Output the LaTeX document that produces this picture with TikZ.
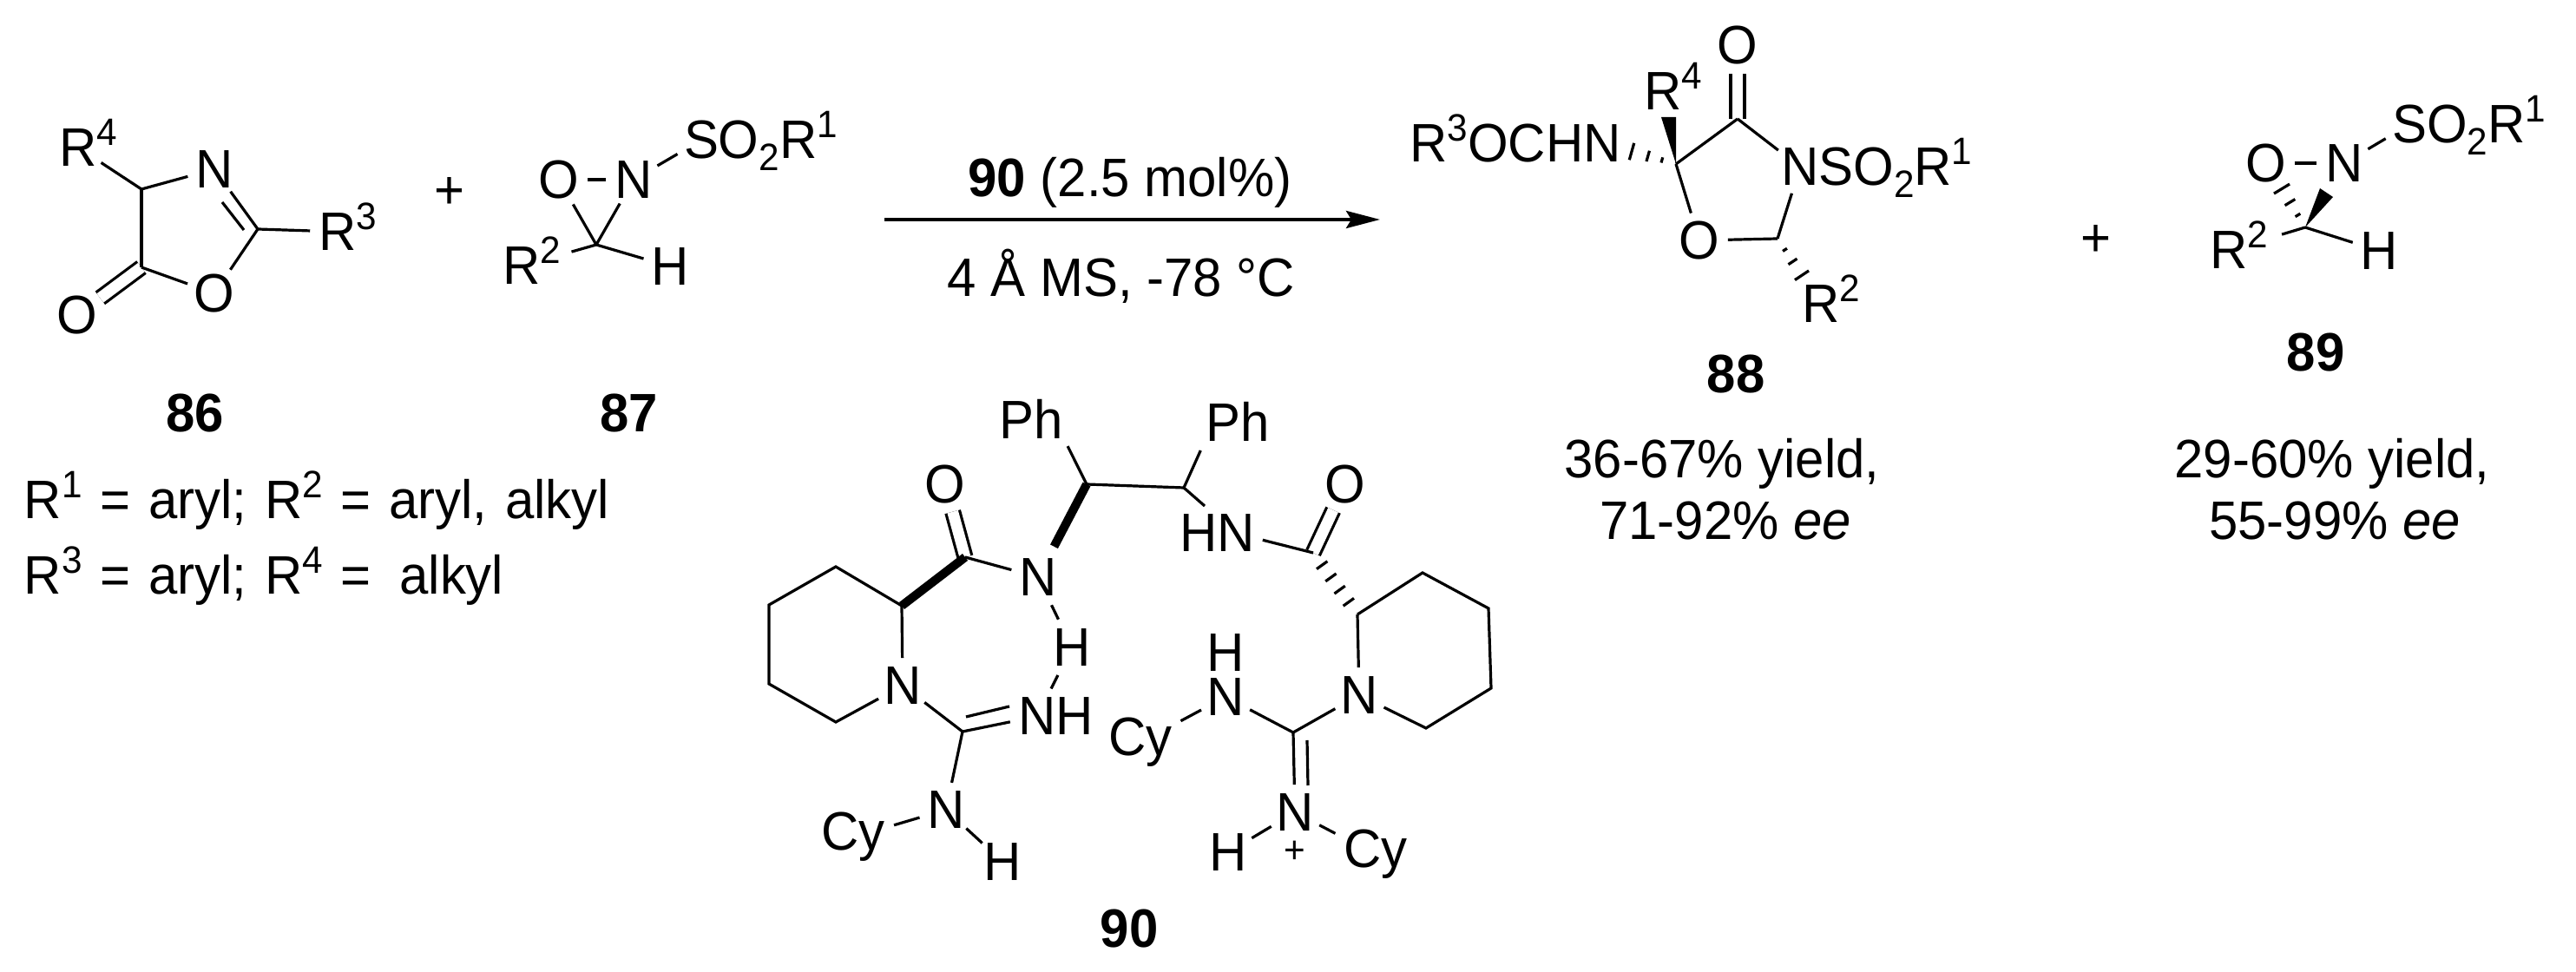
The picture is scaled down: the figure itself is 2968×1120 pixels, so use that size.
\documentclass[tikz,border=0pt]{standalone}
\usepackage{fontspec}
\setmainfont[FakeStretch=0.96]{Liberation Sans}
\usetikzlibrary{calc,arrows.meta}
\newcommand{\supnum}[1]{\raisebox{6pt}{\fontsize{11}{11}\selectfont #1}}
\newcommand{\subnum}[1]{\raisebox{-3.5pt}{\fontsize{11}{11}\selectfont #1}}
\newcommand{\tailr}[1]{\smash{\rlap{#1}}}
\newcommand{\taill}[1]{\smash{\llap{#1}}}
\newcommand{\hashbond}[5]{%
	\foreach \tpos in {#5} {
		\pgfmathsetmacro\hw{#3+(#4-#3)*\tpos}
		\draw[hash] ($(#1)!\tpos!(#2)!\hw pt!90:(#2)$)--($(#1)!\tpos!(#2)!\hw pt!-90:(#2)$);
	}}
\tikzset{
	every node/.style={font=\fontsize{15.6}{18}\selectfont,inner sep=0pt},
	atom/.style={circle,minimum size=15.5pt},
	group/.style={anchor=base,inner sep=0.5pt},
	caption/.style={anchor=base,font=\fontsize{15.6}{18}\selectfont\bfseries},
	note/.style={anchor=base},
	bond/.style={line width=0.8pt},
	dblbond/.style={line width=0.8pt,double,double distance=3.2pt},
	boldbond/.style={line width=2.5pt},
	hash/.style={line width=0.8pt}
}
\begin{document}
\begin{tikzpicture}[x=0.25pt,y=-0.25pt]
	\useasboundingbox (0,0) rectangle (2968,1120);
	% 86
	\coordinate (c4) at (163,218);
	\coordinate (c5) at (163,308);
	\coordinate (c2) at (297,264);
	\coordinate (c2a) at (281,265);
	\coordinate (n1a) at (256,233);
	\node[atom] (r4a) at (90,170) {R\tailr{\supnum{4}}};
	\node[atom] (n1) at (247,195) {N};
	\node[atom] (r3a) at (389,267) {R\tailr{\supnum{3}}};
	\node[atom] (o1) at (247,338) {O};
	\node[atom] (o2) at (89,363) {O};
	\draw[dblbond] (c5)--(o2);
	\draw[bond] (c4)--(r4a);
	\draw[bond] (c4)--(n1);
	\draw[bond] (c4)--(c5);
	\draw[bond] (c2)--(n1);
	\draw[bond] (c2a)--(n1a);
	\draw[bond] (c2)--(r3a);
	\draw[bond] (c2)--(o1);
	\draw[bond] (c5)--(o1);
	\node[caption] (l86) at (225,498) {86};
	\node[note,anchor=base west] (subst1) at (27,598) {\spaceskip=5.2pt\relax R\supnum{1} = aryl; R\supnum{2} = aryl, alkyl};
	\node[note,anchor=base west] (subst2) at (27,685) {\spaceskip=5.2pt\relax R\supnum{3} = aryl; R\supnum{4} = \hspace{3pt}alkyl};
	\node (plus1) at (518,223) {+};
	% 87
	\coordinate (c3) at (687,282);
	\node[atom] (o3) at (644,207) {O};
	\node[atom] (n2) at (730,207) {N};
	\node[atom] (s1) at (808,161.5) {S\tailr{O\subnum{2}R\supnum{1}}};
	\node[atom] (r2a) at (601,306.5) {R\tailr{\supnum{2}}};
	\node[atom] (h1) at (772,307) {H};
	\draw[bond] (o3)--(n2);
	\draw[bond] (n2)--(s1);
	\draw[bond] (c3)--(o3);
	\draw[bond] (c3)--(n2);
	\draw[bond,shorten >=7pt] (c3)--(r2a);
	\draw[bond] (c3)--(h1);
	\node[caption] (l87) at (725,498) {87};
	% reaction arrow
	\coordinate (arrowa) at (1019,253);
	\coordinate (arrowb) at (1590,253);
	\draw[-{Stealth[length=9.75pt,width=5pt,inset=1.5pt]},line width=1pt] (arrowa)--(arrowb);
	\node[note] (cond1) at (1302,227) {\textbf{90} (2.5 mol\%)};
	\node[note] (cond2) at (1292,342) {4 Å MS, -78 °C};
	% 88
	\coordinate (c6) at (1931,189);
	\coordinate (c7) at (2002,137);
	\coordinate (c8) at (2048,275);
	\coordinate (wedge1a) at (1914,135);
	\coordinate (wedge1b) at (1931,135);
	\node[atom] (n3) at (1846,165) {\taill{R\supnum{3}OCH}N};
	\node[atom] (r4b) at (1916,105.5) {R\tailr{\supnum{4}}};
	\node[atom] (o4) at (2002,52) {O};
	\node[atom] (n4) at (2074,192.5) {N\tailr{SO\subnum{2}R\supnum{1}}};
	\node[atom] (o5) at (1958,277) {O};
	\node[atom] (r2b) at (2098,350.5) {R\tailr{\supnum{2}}};
	\draw[dblbond] (c7)--(o4);
	\fill (c6)--(wedge1a)--(wedge1b)--cycle;
	\hashbond{c6}{n3}{0}{4.2}{0.19,0.38,0.6}
	\draw[bond] (c6)--(c7);
	\draw[bond] (c7)--(n4);
	\draw[bond] (n4)--(c8);
	\draw[bond] (c8)--(o5);
	\draw[bond] (c6)--(o5);
	\hashbond{c8}{r2b}{0}{4.3}{0.17,0.35,0.56}
	\node[caption] (l88) at (2000,453) {88};
	\node[note] (yield1) at (1984,551) {36-67\% yield,};
	\node[note] (ee1) at (1988,622) {71-92\% \textit{ee}};
	\node (plus2) at (2415,278) {+};
	% 89
	\coordinate (c9) at (2656,262);
	\coordinate (wedge2a) at (2673,217);
	\coordinate (wedge2b) at (2688,227);
	\node[atom] (o6) at (2611,188) {O};
	\node[atom] (n5) at (2701,188) {N};
	\node[atom] (s2) at (2776,143.5) {S\tailr{O\subnum{2}R\supnum{1}}};
	\node[atom] (r2c) at (2568,288.5) {R\tailr{\supnum{2}}};
	\node[atom] (h2) at (2741,289) {H};
	\draw[bond] (o6)--(n5);
	\draw[bond] (n5)--(s2);
	\fill (c9)--(wedge2a)--(wedge2b)--cycle;
	\hashbond{c9}{o6}{0}{4.4}{0.19,0.39,0.6}
	\draw[bond,shorten >=8pt] (c9)--(r2c);
	\draw[bond] (c9)--(h2);
	\node[caption] (l89) at (2668,428) {89};
	\node[note] (yield2) at (2687,551) {29-60\% yield,};
	\node[note] (ee2) at (2690,622) {55-99\% \textit{ee}};
	% 90 left half
	\coordinate (cha) at (1252,558);
	\coordinate (cam1) at (1112,642);
	\coordinate (cr1) at (1039,698);
	\coordinate (cr2) at (963,653);
	\coordinate (cr3) at (886,697);
	\coordinate (cr4) at (886,788);
	\coordinate (cr5) at (963,832);
	\coordinate (cg1) at (1109,843);
	\coordinate (cg1a) at (1113,826);
	\coordinate (ng1a) at (1163,814);
	\node[group] (ph1) at (1188,506) {Ph};
	\node[atom] (o7) at (1089,558) {O};
	\node[atom] (n6) at (1196,665) {N};
	\node[atom] (h3) at (1235,746) {H};
	\node[atom] (n7) at (1040,790) {N};
	\node[atom] (n8) at (1195,825.5) {N\tailr{H}};
	\node[atom] (n9) at (1090,933) {N};
	\node[group] (cy1) at (983,980) {Cy};
	\node[atom] (h4) at (1155,993) {H};
	\draw[dblbond] (cam1)--(o7);
	\draw[bond,shorten >=1.5pt] (cha)--(ph1.south east);
	\draw[boldbond,shorten >=2pt] (cha)--(n6);
	\draw[boldbond] (cr1)--(cam1);
	\draw[bond] (cam1)--(n6);
	\draw[bond,shorten <=1pt,shorten >=1pt] (n6)--(h3);
	\draw[bond,shorten <=1pt,shorten >=1pt] (h3)--(n8);
	\draw[bond] (cr1)--(cr2)--(cr3)--(cr4)--(cr5)--(n7);
	\draw[bond] (cr1)--(n7);
	\draw[bond] (n7)--(cg1);
	\draw[bond] (cg1)--(n8);
	\draw[bond] (cg1a)--(ng1a);
	\draw[bond] (cg1)--(n9);
	\draw[bond,shorten >=2pt] (n9)--(cy1);
	\draw[bond] (n9)--(h4);
	% 90 right half
	\coordinate (chb) at (1364,562);
	\coordinate (cam2) at (1513,637);
	\coordinate (cs1) at (1564,708);
	\coordinate (cs2) at (1639,660);
	\coordinate (cs3) at (1715,701);
	\coordinate (cs4) at (1718,793);
	\coordinate (cs5) at (1643,839);
	\coordinate (cg2) at (1490,844);
	\coordinate (cg2a) at (1506,853);
	\coordinate (ng2a) at (1507,905);
	\node[group] (ph2) at (1426,509) {Ph};
	\node[atom] (n10) at (1424,614.5) {\taill{H}N};
	\node[atom] (o8) at (1550,558) {O};
	\node[atom] (n11) at (1566,801) {N};
	\node[atom] (h5) at (1412,752) {H};
	\node[atom] (n12) at (1412,803) {N};
	\node[group] (cy2) at (1314,871) {Cy};
	\node[atom] (n13) at (1492,936) {N};
	\node[atom] (h6) at (1415,982) {H};
	\node[group] (cy3) at (1585,1000) {Cy};
	\node (plus3) at (1492,982) {\fontsize{11}{11}\selectfont +};
	\draw[dblbond] (cam2)--(o8);
	\draw[bond] (cha)--(chb);
	\draw[bond,shorten >=2pt] (chb)--(ph2.south west);
	\draw[bond,shorten >=4pt] (chb)--(n10);
	\draw[bond] (n10)--(cam2);
	\hashbond{cam2}{cs1}{1.9}{1.9}{0.2,0.4,0.6,0.8}
	\draw[bond] (cs1)--(cs2)--(cs3)--(cs4)--(cs5)--(n11);
	\draw[bond] (cs1)--(n11);
	\draw[bond] (n11)--(cg2);
	\draw[bond] (cg2)--(n12);
	\draw[bond,shorten >=2pt] (n12)--(cy2);
	\draw[bond] (cg2)--(n13);
	\draw[bond] (cg2a)--(ng2a);
	\draw[bond] (n13)--(h6);
	\draw[bond,shorten >=2pt] (n13)--(cy3);
	\node[caption] (l90) at (1301,1092) {90};
\end{tikzpicture}
\end{document}
